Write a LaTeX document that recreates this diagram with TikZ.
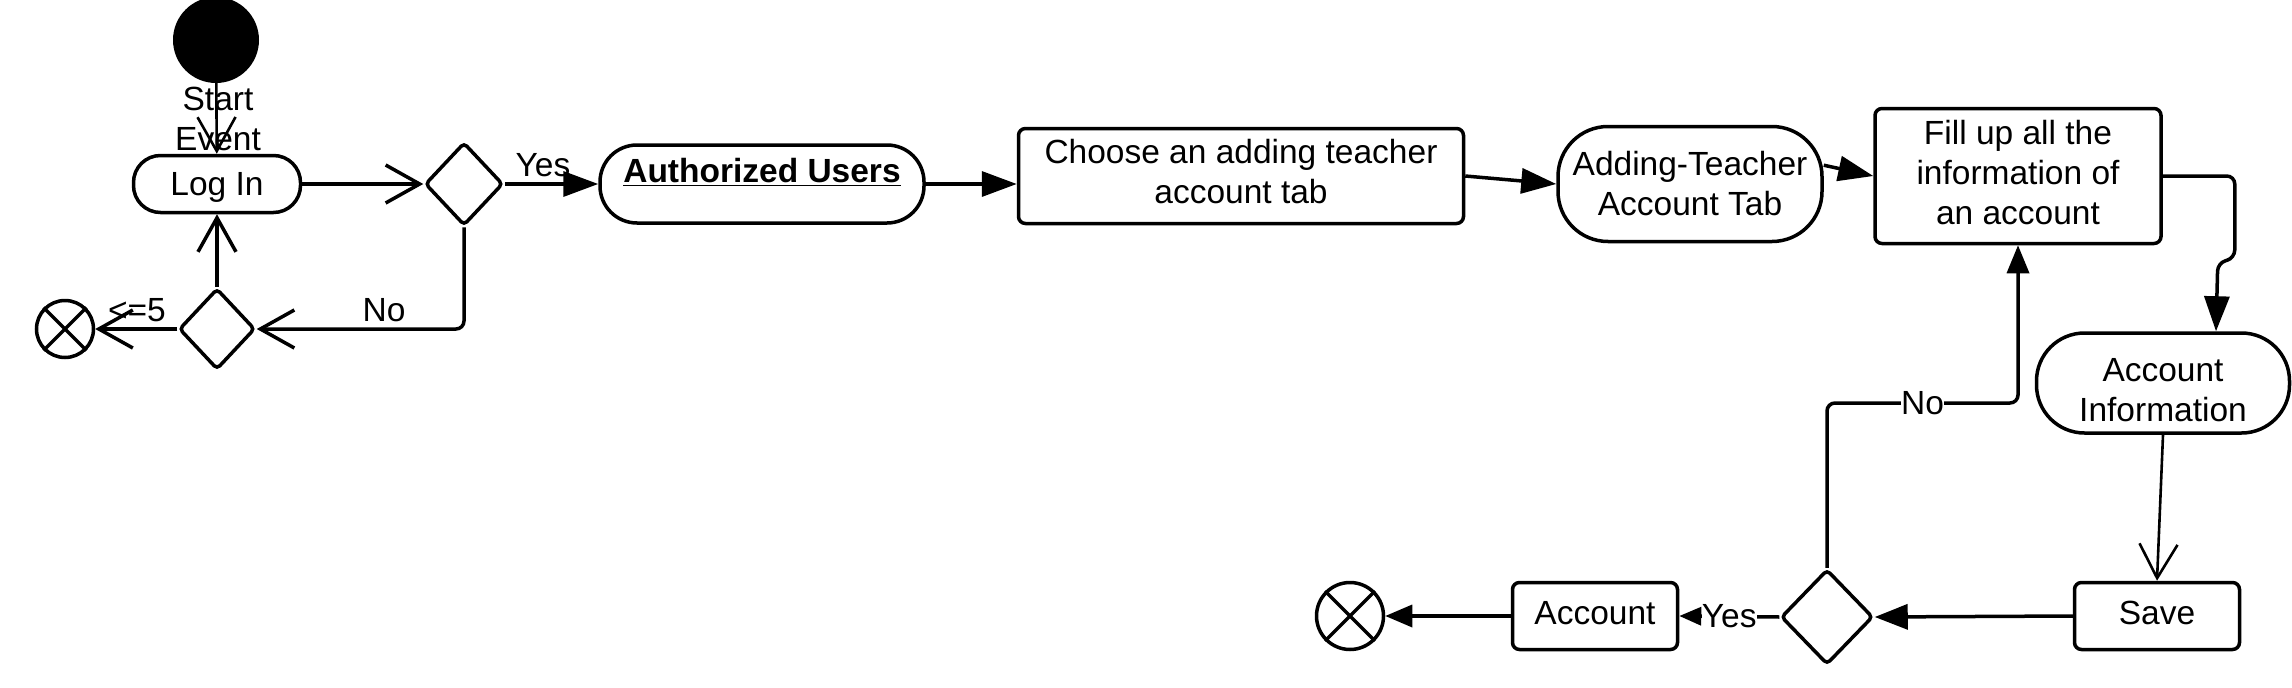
\documentclass[tikz,border=0pt]{standalone}
\usepackage{fontspec}
\setmainfont{Liberation Sans}
\usetikzlibrary{arrows.meta,shapes.geometric}
\begin{document}
\begin{tikzpicture}[x=1pt,y=-1pt,
  every node/.style={font=\fontsize{33.5}{40}\selectfont, text=black},
  ln/.style={line width=3.5pt, draw=black},
  pill/.style={draw, line width=3.5pt, inner sep=0pt, align=center},
  box/.style={draw, line width=3.5pt, rounded corners=7pt, inner sep=0pt, align=center},
  dia/.style={draw, diamond, line width=3.5pt, rounded corners=4pt, inner sep=0pt},
  endc/.style={draw, circle, line width=3.5pt, inner sep=0pt},
  lab/.style={align=center, inner sep=0pt},
  openarr/.style={-{Straight Barb[length=34pt,width=38pt]}},
  fillarr/.style={-{Triangle[length=35pt,width=25pt]}},
  lbl/.style={inner sep=1pt}
]
\useasboundingbox (0,0) rectangle (2292,688);

% nodes
\node[circle, fill=black, minimum size=86pt, inner sep=0pt] (start) at (216,40) {};
\node[align=center, inner sep=0pt] (startlbl) at (218,119) {Start\\Event};
\node[pill, rounded corners=27pt, minimum width=167pt, minimum height=57pt,
  label={[lab, yshift=-3pt]center:Log In}] (login) at (217,184) {};
\node[dia, minimum width=78pt, minimum height=83pt] (d1) at (464,184) {};
\node[dia, minimum width=76pt, minimum height=81pt] (d2) at (217,329) {};
\node[endc, minimum size=57pt] (e1) at (65,329) {};
\node[pill, rounded corners=37pt, minimum width=324pt, minimum height=78pt,
  label={[lab, yshift=12pt]center:\underline{\textbf{Authorized Users}}}] (au) at (762,184) {};
\node[box, minimum width=445pt, minimum height=95pt,
  label={[lab, yshift=4pt]center:Choose an adding teacher\\account tab}] (choose) at (1241,176) {};
\node[pill, rounded corners=50pt, minimum width=264pt, minimum height=115pt,
  label={[lab]center:Adding-Teacher\\Account Tab}] (at) at (1690,184) {};
\node[box, minimum width=286pt, minimum height=135pt,
  label={[lab, yshift=3pt]center:Fill up all the\\information of\\an account}] (fill) at (2018,176) {};
\node[pill, rounded corners=48pt, minimum width=253pt, minimum height=100pt,
  label={[lab, yshift=-7pt]center:Account\\Information}] (ai) at (2163,383) {};
\node[box, minimum width=165pt, minimum height=67pt,
  label={[lab, yshift=3pt]center:Save}] (save) at (2157,616) {};
\node[dia, minimum width=92pt, minimum height=95pt] (d3) at (1827,617) {};
\node[box, minimum width=165pt, minimum height=67pt,
  label={[lab, yshift=3pt]center:Account}] (acc) at (1595,616) {};
\node[endc, minimum size=67pt] (e2) at (1350,616) {};

% crosses in end nodes
\draw[ln] (e1.45) -- (e1.225) (e1.135) -- (e1.315);
\draw[ln] (e2.45) -- (e2.225) (e2.135) -- (e2.315);

% labels
\node[lbl] (yes1) at (543,165) {Yes};
\node[lbl] (no1) at (384,310) {No};
\node[lbl] (le5) at (137,310) {<=5};

% connectors
\draw[ln, line width=2.6pt, openarr] (start) -- (login);
\draw[ln, openarr] (login) -- (d1);
\draw[ln, fillarr] (d1) -- (au);
\draw[ln, openarr, rounded corners=8pt] (d1.south) |- (d2.east);
\draw[ln, openarr] (d2.north) -- (login.south);
\draw[ln, openarr] (d2.west) -- (e1.east);
\draw[ln, fillarr] (au.east) -- (au.east -| choose.west);
\draw[ln, fillarr] (choose.east) -- (at.west);
\draw[ln, fillarr] (at.8) -- (fill.west);
\draw[ln, fillarr, rounded corners=8pt] (fill.east) -- ++(72,0) -- ++(0,82) -- ++(-17,5) -- ([xshift=53pt]ai.north);
\draw[ln, line width=2.6pt, openarr] (ai.south) -- (save.north);
\draw[ln, -{Triangle[length=33pt,width=25pt]}] (save.west) -- (d3.east);
\draw[ln, -{Triangle[length=22pt,width=18pt]}] (d3.west) -- node[fill=white, inner sep=0pt, pos=0.5] (yes2) {Yes} (acc.east);
\draw[ln, -{Triangle[length=27pt,width=22pt]}] (acc.west) -- (e2.east);
\coordinate (nobend) at (2018,403);
\draw[ln, -{Triangle[length=28pt,width=22pt]}, rounded corners=8pt] (d3.north) |- node[pos=0.75, fill=white, inner sep=0pt] (no2) {No} (nobend) -- (fill.south);
\end{tikzpicture}
\end{document}
